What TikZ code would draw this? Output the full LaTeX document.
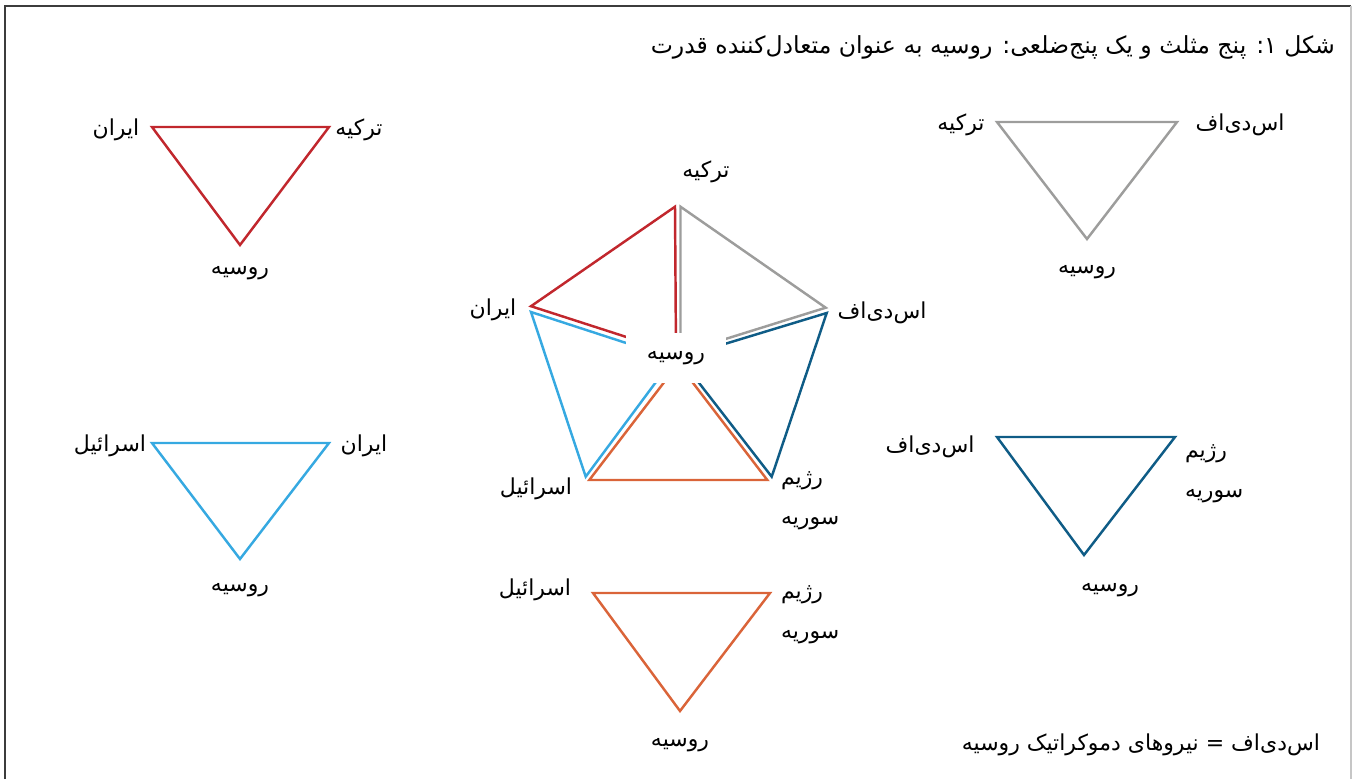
\documentclass[tikz,border=0pt]{standalone}
\usepackage{fontspec}
\newfontfamily\farsi[Script=Arabic]{DejaVu Sans}
\TeXXeTstate=1
\newcommand{\fatext}[1]{\beginR #1\endR}
\usetikzlibrary{positioning}

\definecolor{triRed}{RGB}{193,39,45}
\definecolor{triSky}{RGB}{54,169,225}
\definecolor{triGray}{RGB}{157,157,156}
\definecolor{triNavy}{RGB}{15,92,134}
\definecolor{triOrange}{RGB}{218,100,57}
\definecolor{frameDark}{RGB}{60,60,60}

\begin{document}
\begin{tikzpicture}[
    x=0.02cm, y=-0.02cm,
    every node/.style={font=\farsi\fontsize{12.5}{15}\selectfont, inner sep=1pt},
    tri/.style={line width=1.4pt},
    place/.style={align=center},
    twoline/.style={align=left, anchor=west, font=\farsi\fontsize{12.5}{23}\selectfont},
    title/.style={anchor=east, font=\farsi\fontsize{13.4}{16}\selectfont},
    cutout/.style={fill=white, minimum width=2.02cm, minimum height=1cm, inner sep=0pt}
]
\useasboundingbox (0,0) rectangle (1353,779);

% ============ FRAME ============
\draw[frameDark, line width=0.8pt] (5,779) -- (5,6) -- (1351,6);
\draw[gray!45, line width=0.8pt] (1351,6) -- (1351,779);

% ============ TITLE ============
\node[title] (title) at (1337,47) {\fatext{شکل ۱: پنج مثلث و یک پنج^^^^200cضلعی: روسیه به عنوان متعادل^^^^200cکننده قدرت}};

% ============ TOP LEFT: TURKEY - IRAN ============
\coordinate (tl_a) at (152,127);
\coordinate (tl_b) at (329,127);
\coordinate (tl_c) at (240,245);
\draw[tri, triRed] (tl_a) -- (tl_b) -- (tl_c) -- cycle;
\node[place] (tl_iran) at (116,130) {\fatext{ایران}};
\node[place] (tl_turkey) at (359,130) {\fatext{ترکیه}};
\node[place] (tl_russia) at (240,273) {\fatext{روسیه}};

% ============ MIDDLE LEFT: IRAN - ISRAEL ============
\coordinate (ml_a) at (152,443);
\coordinate (ml_b) at (329,443);
\coordinate (ml_c) at (240,559);
\draw[tri, triSky] (ml_a) -- (ml_b) -- (ml_c) -- cycle;
\node[place] (ml_israel) at (110,446) {\fatext{اسرائیل}};
\node[place] (ml_iran) at (364,446) {\fatext{ایران}};
\node[place] (ml_russia) at (240,590) {\fatext{روسیه}};

% ============ TOP RIGHT: SDF - TURKEY ============
\coordinate (tr_a) at (997,122);
\coordinate (tr_b) at (1177,122);
\coordinate (tr_c) at (1087,239);
\draw[tri, triGray] (tr_a) -- (tr_b) -- (tr_c) -- cycle;
\node[place] (tr_turkey) at (961,125) {\fatext{ترکیه}};
\node[place] (tr_sdf) at (1240,125) {\fatext{اس^^^^200cدی^^^^200cاف}};
\node[place] (tr_russia) at (1087,272) {\fatext{روسیه}};

% ============ MIDDLE RIGHT: SYRIA - SDF ============
\coordinate (mr_a) at (997,437);
\coordinate (mr_b) at (1175,437);
\coordinate (mr_c) at (1084,555);
\draw[tri, triNavy] (mr_a) -- (mr_b) -- (mr_c) -- cycle;
\node[place] (mr_sdf) at (930,447) {\fatext{اس^^^^200cدی^^^^200cاف}};
\node[twoline] (mr_syria) at (1183,474) {\fatext{رژیم}\\\fatext{سوریه}};
\node[place] (mr_russia) at (1110,590) {\fatext{روسیه}};

% ============ BOTTOM: ISRAEL - SYRIA ============
\coordinate (bt_a) at (593,593);
\coordinate (bt_b) at (770,593);
\coordinate (bt_c) at (680,711);
\draw[tri, triOrange] (bt_a) -- (bt_b) -- (bt_c) -- cycle;
\node[place] (bt_israel) at (535,590) {\fatext{اسرائیل}};
\node[twoline] (bt_syria) at (779,615) {\fatext{رژیم}\\\fatext{سوریه}};
\node[place] (bt_russia) at (680,745) {\fatext{روسیه}};

% ============ CENTRAL PENTAGON ============
% red: turkey - iran
\coordinate (pr_t) at (675,206.7);
\coordinate (pr_i) at (531,306.2);
\coordinate (pr_c) at (676,353);
\draw[tri, triRed] (pr_c) -- (pr_t) -- (pr_i) -- cycle;
% gray: turkey - sdf
\coordinate (pg_t) at (680.5,206.7);
\coordinate (pg_s) at (825.7,307.7);
\coordinate (pg_c) at (680.5,353);
\draw[tri, triGray] (pg_c) -- (pg_t) -- (pg_s) -- cycle;
% sky: iran - israel
\coordinate (ps_i) at (531,312);
\coordinate (ps_l) at (585.7,476.7);
\coordinate (ps_c) at (673.5,358.4);
\draw[tri, triSky] (ps_c) -- (ps_i) -- (ps_l) -- cycle;
% navy: sdf - syria
\coordinate (pn_s) at (826.7,313);
\coordinate (pn_r) at (771.7,476.7);
\coordinate (pn_c) at (679.5,357.7);
\draw[tri, triNavy] (pn_c) -- (pn_s) -- (pn_r) -- cycle;
% orange: israel - syria
\coordinate (po_l) at (589.3,480);
\coordinate (po_r) at (767.3,480);
\coordinate (po_c) at (678.3,363.7);
\draw[tri, triOrange] (po_c) -- (po_l) -- (po_r) -- cycle;

\node[cutout] (center_russia) at (676,358) {\fatext{روسیه}};
\node[place] (p_turkey) at (706,172) {\fatext{ترکیه}};
\node[place] (p_sdf) at (882,313) {\fatext{اس^^^^200cدی^^^^200cاف}};
\node[place] (p_iran) at (493,310) {\fatext{ایران}};
\node[place] (p_israel) at (536,489) {\fatext{اسرائیل}};
\node[twoline] (p_syria) at (779,501) {\fatext{رژیم}\\\fatext{سوریه}};

% ============ LEGEND ============
\node[anchor=east] (legend) at (1322,745) {\fatext{اس^^^^200cدی^^^^200cاف = نیروهای دموکراتیک روسیه}};

\end{tikzpicture}
\end{document}
